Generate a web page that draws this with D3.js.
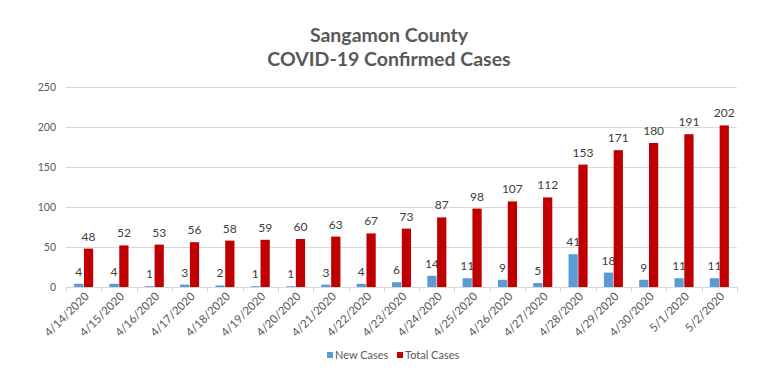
<!DOCTYPE html>
<html>
<head>
<meta charset="utf-8">
<script src="https://cdn.jsdelivr.net/npm/d3@7"></script>
<style>
  body { margin: 0; background: #fff; }
  text { font-family: Lato, "Open Sans", sans-serif; }
</style>
</head>
<body>
<div id="chart"></div>
<script>
// chart data
const dates = ["4/14/2020", "4/15/2020", "4/16/2020", "4/17/2020", "4/18/2020", "4/19/2020",
    "4/20/2020", "4/21/2020", "4/22/2020", "4/23/2020", "4/24/2020", "4/25/2020", "4/26/2020",
    "4/27/2020", "4/28/2020", "4/29/2020", "4/30/2020", "5/1/2020", "5/2/2020"];
const newCases = [4, 4, 1, 3, 2, 1, 1, 3, 4, 6, 14, 11, 9, 5, 41, 18, 9, 11, 11];
const totalCases = [48, 52, 53, 56, 58, 59, 60, 63, 67, 73, 87, 98, 107, 112, 153, 171, 180, 191, 202];
const yTicks = [0, 50, 100, 150, 200, 250];
const seriesNames = ["New Cases", "Total Cases"];
const titleLines = ["Sangamon County", "COVID-19 Confirmed Cases"];

const WIDTH = 773, HEIGHT = 390;
const MARGIN = { LEFT: 66, RIGHT: 36, TOP: 87, BOTTOM: 103 };
const colors = { "New Cases": "#5B9BD5", "Total Cases": "#C00000" };

const svg = d3.select("#chart").append("svg")
    .attr("width", WIDTH)
    .attr("height", HEIGHT);

// Title
svg.append("g").selectAll("text")
    .data(titleLines)
    .join("text")
    .attr("x", 389)
    .attr("y", (d, i) => 42 + i * 23.5)
    .attr("text-anchor", "middle")
    .attr("font-size", "19.5px")
    .attr("font-weight", "bold")
    .attr("fill", "#595959")
    .text(d => d);

const x = d3.scaleBand()
    .domain(dates)
    .range([MARGIN.LEFT, WIDTH - MARGIN.RIGHT])
    .paddingInner(0.46)
    .paddingOuter(0.23);

const xs = d3.scaleBand()
    .domain(seriesNames)
    .range([0, x.bandwidth()])
    .paddingInner(0.06);

const y = d3.scaleLinear()
    .domain([0, 250])
    .range([HEIGHT - MARGIN.BOTTOM, MARGIN.TOP]);

// Gridlines
svg.append("g").selectAll("line")
    .data(yTicks)
    .join("line")
    .attr("x1", MARGIN.LEFT)
    .attr("x2", WIDTH - MARGIN.RIGHT)
    .attr("y1", d => y(d) + 0.5)
    .attr("y2", d => y(d) + 0.5)
    .attr("stroke", "#d9d9d9")
    .attr("stroke-width", 1);

// Y axis labels
svg.append("g").selectAll("text")
    .data(yTicks)
    .join("text")
    .attr("x", 56)
    .attr("y", d => y(d) + 4)
    .attr("text-anchor", "end")
    .attr("font-size", "10.5px")
    .attr("fill", "#595959")
    .text(d => d);

// X axis tick marks at category boundaries
const step = x.step();
const bounds = d3.range(dates.length + 1).map(i => MARGIN.LEFT + i * step);
svg.append("g").selectAll("line")
    .data(bounds)
    .join("line")
    .attr("x1", d => Math.round(d) + 0.5)
    .attr("x2", d => Math.round(d) + 0.5)
    .attr("y1", y(0))
    .attr("y2", y(0) + 5)
    .attr("stroke", "#d9d9d9");

// X axis labels
svg.append("g").selectAll("text")
    .data(dates)
    .join("text")
    .attr("transform", d => `translate(${x(d) + x.bandwidth() / 2 + 6}, ${y(0) + 10}) rotate(-45)`)
    .attr("text-anchor", "end")
    .attr("font-size", "11.5px")
    .attr("fill", "#595959")
    .text(d => d);

// Bars
const rows = dates.map((d, i) => ({ date: d, "New Cases": newCases[i], "Total Cases": totalCases[i] }));

const groups = svg.append("g").selectAll("g")
    .data(rows)
    .join("g")
    .attr("transform", d => `translate(${x(d.date)}, 0)`);

groups.selectAll("rect")
    .data(d => seriesNames.map(s => ({ key: s, value: d[s] })))
    .join("rect")
    .attr("x", d => xs(d.key))
    .attr("width", xs.bandwidth())
    .attr("y", d => y(d.value))
    .attr("height", d => y(0) - y(d.value))
    .attr("fill", d => colors[d.key]);

// Data labels
groups.selectAll("text")
    .data(d => seriesNames.map(s => ({ key: s, value: d[s] })))
    .join("text")
    .attr("x", d => xs(d.key) + xs.bandwidth() / 2)
    .attr("y", d => y(d.value) - 8)
    .attr("text-anchor", "middle")
    .attr("font-size", "12px")
    .attr("fill", "#404040")
    .text(d => d.value);

// Legend
const legendX = [327, 397];
const legend = svg.append("g").selectAll("g")
    .data(seriesNames)
    .join("g")
    .attr("transform", (d, i) => `translate(${legendX[i]}, 352)`);

legend.append("rect")
    .attr("width", 6)
    .attr("height", 6)
    .attr("fill", d => colors[d]);

legend.append("text")
    .attr("x", 8)
    .attr("y", 7)
    .attr("font-size", "11px")
    .attr("fill", "#595959")
    .text(d => d);
</script>
</body>
</html>
